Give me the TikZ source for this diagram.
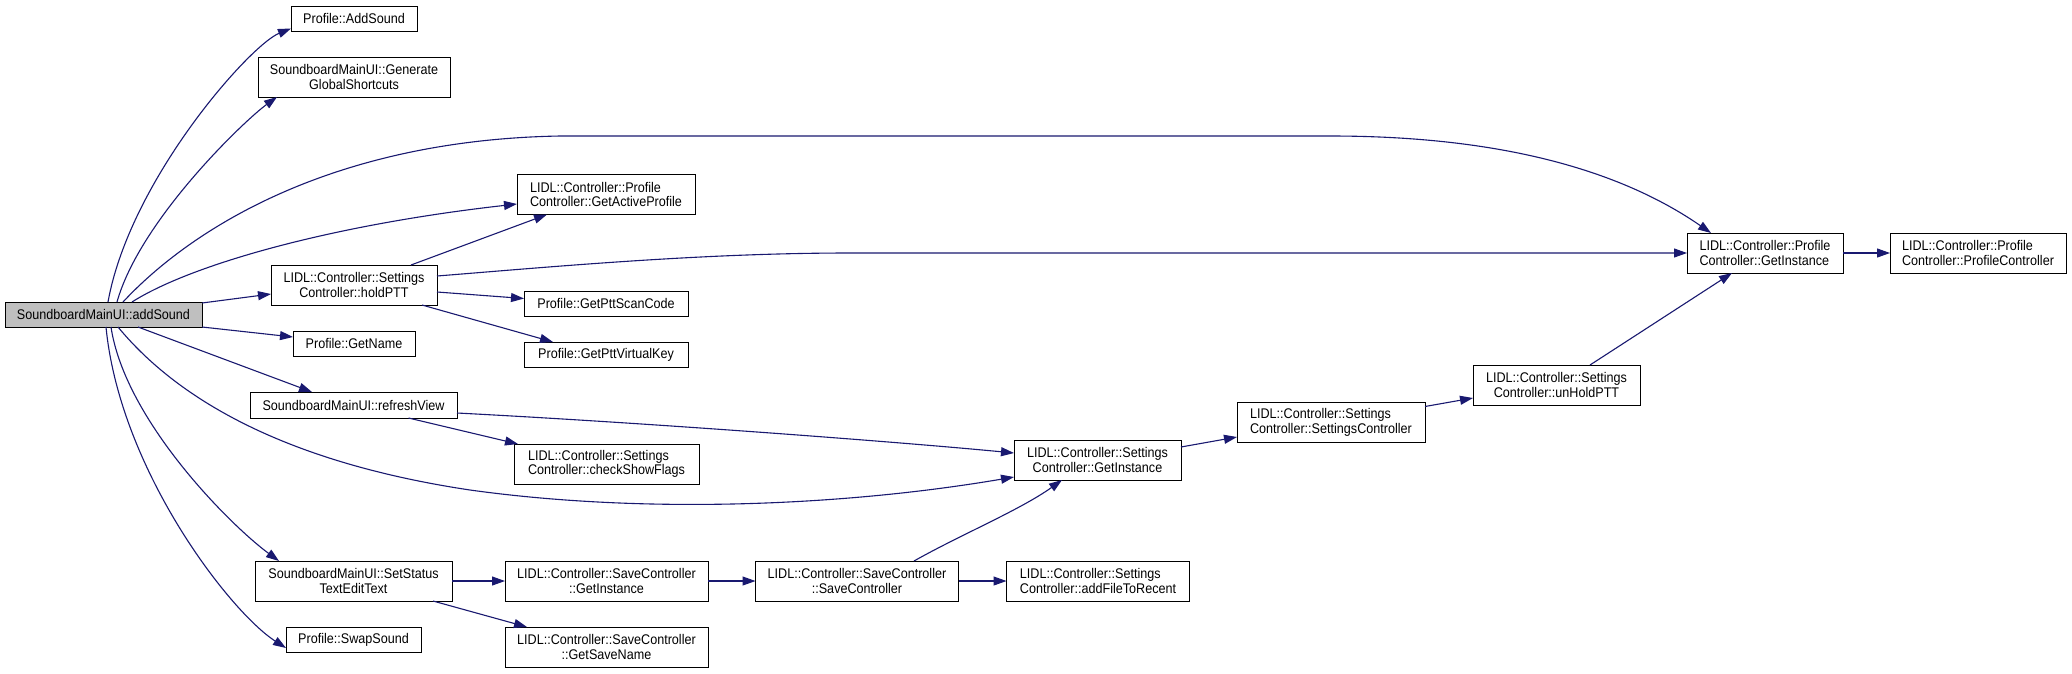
\documentclass[tikz,border=0pt]{standalone}
\usepackage{fontspec}
\setmainfont{Liberation Sans}[FakeStretch=0.9]
\usetikzlibrary{arrows.meta}
\definecolor{edgeblue}{RGB}{25,25,112}
\definecolor{rootgray}{RGB}{191,191,191}
\begin{document}
\begin{tikzpicture}[x=1pt,y=-1pt,
  fn/.style={draw=black, line width=1pt, fill=white, inner sep=0pt, outer sep=0pt,
    font=\fontsize{14}{14.5}\selectfont, align=center},
  fnl/.style={fn, align=left},
  e/.style={draw=edgeblue, line width=1.1pt, -{Triangle[length=13pt,width=9pt]}}]
\useasboundingbox[fill=white] (0,0) rectangle (2072,673);
% rank 0
\node[fn, fill=rootgray, minimum width=197pt, minimum height=25pt] (root) at (103.5,314.5) {SoundboardMainUI::addSound};
% rank 1
\node[fn, minimum width=126pt, minimum height=25pt] (adds) at (354,18.5) {Profile::AddSound};
\node[fn, minimum width=192pt, minimum height=40pt] (gen) at (354,77) {SoundboardMainUI::Generate\\GlobalShortcuts};
\node[fn, minimum width=166pt, minimum height=40pt] (hold) at (354,285) {LIDL::Controller::Settings\\Controller::holdPTT};
\node[fn, minimum width=122pt, minimum height=25pt] (getname) at (354,343.5) {Profile::GetName};
\node[fn, minimum width=207pt, minimum height=26pt] (refresh) at (353.5,405) {SoundboardMainUI::refreshView};
\node[fn, minimum width=197pt, minimum height=40pt] (setstat) at (353.5,581) {SoundboardMainUI::SetStatus\\TextEditText};
\node[fn, minimum width=135pt, minimum height=25pt] (swap) at (353.5,640) {Profile::SwapSound};
% rank 2
\node[fnl, minimum width=178pt, minimum height=40pt] (active) at (606,194.5) {LIDL::Controller::Profile\\Controller::GetActiveProfile};
\node[fn, minimum width=164pt, minimum height=25pt] (scan) at (606,303.5) {Profile::GetPttScanCode};
\node[fn, minimum width=164pt, minimum height=25pt] (virt) at (606,354.5) {Profile::GetPttVirtualKey};
\node[fnl, minimum width=185pt, minimum height=40pt] (flags) at (606.5,464) {LIDL::Controller::Settings\\Controller::checkShowFlags};
\node[fn, minimum width=203pt, minimum height=40pt] (saveinst) at (606.5,581) {LIDL::Controller::SaveController\\::GetInstance};
\node[fn, minimum width=203pt, minimum height=40pt] (savename) at (606.5,647) {LIDL::Controller::SaveController\\::GetSaveName};
% rank 3+
\node[fn, minimum width=203pt, minimum height=40pt] (savectrl) at (857,581) {LIDL::Controller::SaveController\\::SaveController};
\node[fn, minimum width=167pt, minimum height=40pt] (setinst) at (1097.5,460) {LIDL::Controller::Settings\\Controller::GetInstance};
\node[fnl, minimum width=183pt, minimum height=40pt] (recent) at (1098,581) {LIDL::Controller::Settings\\Controller::addFileToRecent};
\node[fnl, minimum width=188pt, minimum height=40pt] (setctrl) at (1331,422.5) {LIDL::Controller::Settings\\Controller::SettingsController};
\node[fn, minimum width=167pt, minimum height=40pt] (unhold) at (1556.5,385) {LIDL::Controller::Settings\\Controller::unHoldPTT};
\node[fnl, minimum width=156pt, minimum height=40pt] (profinst) at (1765,253) {LIDL::Controller::Profile\\Controller::GetInstance};
\node[fnl, minimum width=176pt, minimum height=40pt] (profctrl) at (1978,253) {LIDL::Controller::Profile\\Controller::ProfileController};
% edges from root
\draw[e] ([xshift=4.5pt]root.north) .. controls (130,180) and (250,45) .. ([yshift=-10pt]adds.west);
\draw[e] ([xshift=13.5pt]root.north) .. controls (140,220) and (245,120) .. ([xshift=19pt]gen.south west);
\draw[e] ([xshift=19.5pt]root.north) .. controls (190,230) and (330,140) .. (560,136) -- (1330,136) .. controls (1500,136) and (1620,170) .. ([xshift=-54pt]profinst.north);
\draw[e] ([xshift=28.5pt]root.north) .. controls (190,265) and (330,225) .. ([yshift=-9.5pt]active.west);
\draw[e] ([yshift=11.5pt]root.east) -- ([yshift=-9pt]hold.west);
\draw[e] (root.south east) -- ([yshift=6.5pt]getname.west);
\draw[e] ([xshift=34.5pt]root.south) -- ([xshift=-41.5pt]refresh.north);
\draw[e] ([xshift=14.5pt]root.south) .. controls (170,390) and (270,460) .. (470,490) .. controls (650,515) and (850,505) .. ([yshift=-17pt]setinst.west);
\draw[e] ([xshift=7.5pt]root.south) .. controls (125,420) and (230,525) .. ([xshift=24pt]setstat.north west);
\draw[e] ([xshift=2.5pt]root.south) .. controls (120,470) and (230,612) .. ([yshift=-8pt]swap.west);
% holdPTT
\draw[e] ([xshift=57pt]hold.north) -- ([xshift=-59pt]active.south);
\draw[e] ([yshift=9pt]hold.east) .. controls (550,267) and (700,253) .. (850,253) -- (profinst.west);
\draw[e] ([yshift=-7pt]hold.east) -- ([yshift=5pt]scan.west);
\draw[e] ([xshift=68pt]hold.south) -- ([xshift=-53pt]virt.north);
% refreshView
\draw[e] ([yshift=-8pt]refresh.east) .. controls (650,423) and (900,442) .. ([yshift=7pt]setinst.west);
\draw[e] ([xshift=55pt]refresh.south) -- ([xshift=-88.5pt]flags.north);
% SetStatus
\draw[e] (setstat.east) -- (saveinst.west);
\draw[e] ([xshift=79.5pt]setstat.south) -- ([xshift=-79.5pt]savename.north);
\draw[e] (saveinst.east) -- (savectrl.west);
\draw[e] ([xshift=57pt]savectrl.north) .. controls (960,535) and (1020,510) .. ([xshift=-35.5pt]setinst.south);
\draw[e] (savectrl.east) -- (recent.west);
\draw[e] ([yshift=13pt]setinst.east) -- ([yshift=-14.5pt]setctrl.west);
\draw[e] ([yshift=16pt]setctrl.east) -- ([yshift=-13pt]unhold.west);
\draw[e] ([xshift=33.5pt]unhold.north) -- ([xshift=-33pt]profinst.south);
\draw[e] (profinst.east) -- (profctrl.west);
\end{tikzpicture}
\end{document}
